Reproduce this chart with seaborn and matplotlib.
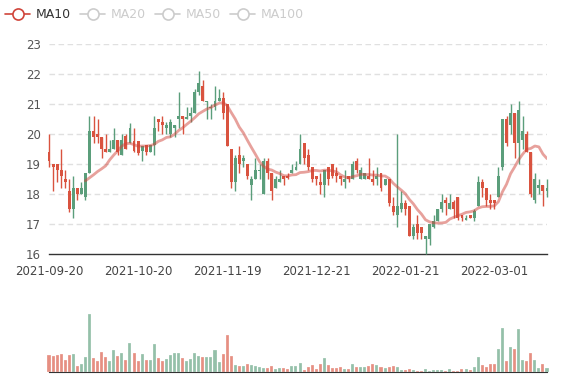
import numpy as np
import pandas as pd
import matplotlib
matplotlib.use('Agg')
import matplotlib.pyplot as plt
import seaborn as sns
from matplotlib.lines import Line2D

# daily candles
opens = [19.4, 19.0, 19.0, 18.8, 18.5, 18.1, 17.5, 18.2, 18.0, 17.9,
         18.7, 20.1, 20.0, 19.9, 19.5, 19.4, 19.5, 19.8, 19.3, 19.95,
         19.7, 19.75, 19.75, 19.45, 19.65, 19.4, 19.65, 20.5, 20.4, 20.2,
         20.0, 20.2, 20.5, 20.6, 20.5, 20.6, 20.7, 21.4, 21.6, 21.05,
         20.85, 20.9, 21.1, 21.2, 21.0, 19.5, 18.4, 19.3, 19.1, 19.0,
         18.3, 18.5, 18.78, 18.0, 19.1, 18.7, 18.2, 18.4, 18.6, 18.6,
         18.7, 18.8, 19.0, 19.7, 19.3, 18.9, 18.6, 18.4, 18.3, 18.9,
         19.0, 18.7, 18.6, 18.4, 18.6, 18.5, 19.1, 18.5, 18.5, 18.6,
         18.5, 18.5, 18.7, 18.3, 18.5, 17.6, 17.3, 17.5, 17.7, 17.6,
         16.6, 17.0, 16.9, 16.5, 16.5, 16.9, 17.1, 17.5, 17.8, 17.5,
         17.75, 17.9, 17.3, 17.15, 17.3, 17.2, 17.6, 18.4, 18.2, 17.8,
         17.8, 17.9, 18.9, 20.5, 20.3, 20.7, 19.7, 19.8, 20.0, 19.4,
         17.8, 18.2, 18.3, 18.1]
highs = [20.0, 19.0, 19.0, 19.5, 18.8, 18.5, 18.6, 18.2, 18.4, 18.7,
         20.6, 20.6, 20.5, 19.9, 20.0, 19.8, 20.2, 19.8, 20.0, 20.0,
         20.35, 20.2, 19.75, 19.6, 19.65, 19.65, 20.6, 20.5, 20.6, 20.4,
         20.5, 20.3, 21.4, 20.6, 20.9, 20.9, 21.5, 22.1, 21.8, 21.1,
         21.0, 21.6, 21.5, 21.4, 21.0, 19.5, 19.3, 19.6, 19.3, 19.0,
         18.6, 19.2, 19.0, 19.2, 19.2, 18.7, 18.6, 18.8, 18.6, 18.7,
         19.0, 19.1, 20.0, 19.7, 19.5, 18.9, 18.6, 18.7, 18.8, 18.9,
         19.0, 18.9, 18.6, 18.8, 18.6, 19.1, 19.2, 18.9, 18.7, 19.2,
         18.8, 18.9, 18.7, 18.5, 18.5, 17.9, 20.0, 18.1, 17.8, 17.6,
         17.0, 17.3, 16.9, 16.6, 17.0, 17.3, 17.5, 18.0, 17.9, 18.0,
         17.8, 17.9, 17.3, 17.3, 17.3, 17.5, 18.6, 18.5, 18.2, 18.0,
         17.8, 18.9, 20.5, 20.6, 21.0, 20.7, 21.1, 20.6, 20.1, 19.4,
         18.7, 18.5, 18.3, 18.5]
lows = [18.9, 18.1, 18.4, 18.2, 18.2, 17.4, 17.2, 17.8, 18.0, 17.8,
        18.7, 19.7, 19.7, 19.2, 19.4, 19.4, 19.5, 19.3, 19.3, 19.5,
        19.7, 19.4, 19.3, 19.1, 19.3, 19.4, 19.3, 20.1, 20.0, 20.0,
        19.9, 19.9, 20.2, 20.0, 20.5, 20.4, 20.7, 21.3, 21.1, 20.5,
        20.5, 20.8, 21.1, 20.5, 19.6, 18.2, 18.1, 18.7, 18.9, 18.5,
        17.8, 18.5, 18.5, 18.0, 18.5, 17.8, 18.2, 18.4, 18.3, 18.5,
        18.7, 18.8, 19.0, 19.0, 18.8, 18.4, 18.3, 18.0, 17.9, 18.3,
        18.55, 18.4, 18.3, 18.2, 18.4, 18.5, 18.7, 18.5, 18.5, 18.5,
        18.3, 18.3, 18.1, 18.3, 17.6, 17.3, 16.9, 17.4, 17.3, 16.6,
        16.5, 16.5, 16.5, 16.0, 16.3, 16.85, 17.1, 17.4, 17.3, 17.5,
        17.2, 17.15, 17.1, 17.15, 17.2, 17.1, 17.6, 17.9, 17.6, 17.5,
        17.5, 17.9, 18.8, 19.6, 20.0, 19.2, 19.0, 19.5, 19.4, 17.9,
        17.7, 18.0, 17.6, 17.9]
closes = [19.1, 18.9, 18.8, 18.6, 18.4, 17.5, 18.2, 18.0, 18.2, 18.7,
          20.1, 19.9, 19.9, 19.5, 19.4, 19.5, 19.8, 19.4, 19.8, 19.5,
          20.2, 19.45, 19.35, 19.6, 19.4, 19.65, 20.2, 20.4, 20.3, 20.3,
          20.4, 20.3, 20.6, 20.5, 20.55, 20.7, 21.4, 21.7, 21.1, 21.1,
          20.9, 21.1, 21.2, 20.7, 19.6, 18.4, 19.2, 19.0, 19.2, 18.6,
          18.5, 18.8, 18.8, 19.1, 18.7, 18.1, 18.5, 18.5, 18.5, 18.55,
          18.8, 18.9, 19.5, 19.2, 18.9, 18.5, 18.5, 18.3, 18.8, 18.5,
          18.6, 18.6, 18.5, 18.5, 18.5, 19.0, 18.8, 18.8, 18.7, 18.5,
          18.4, 18.6, 18.2, 18.5, 17.7, 17.4, 17.6, 17.7, 17.5, 16.6,
          16.9, 16.7, 16.7, 16.6, 17.0, 17.1, 17.5, 17.75, 17.7, 17.7,
          17.5, 17.2, 17.2, 17.2, 17.2, 17.45, 18.4, 18.2, 17.8, 17.7,
          17.7, 18.6, 20.5, 19.7, 20.7, 19.7, 20.8, 20.1, 19.4, 18.0,
          18.5, 18.3, 18.1, 18.2]
volumes = [52, 47, 52, 55, 37, 52, 55, 19, 24, 45,
           175, 41, 33, 61, 46, 32, 65, 49, 57, 36,
           87, 58, 34, 54, 37, 37, 84, 42, 33, 40,
           51, 57, 58, 42, 34, 39, 57, 49, 45, 46,
           46, 67, 31, 54, 111, 48, 22, 18, 17, 23,
           21, 18, 15, 12, 13, 17, 9, 11, 11, 9,
           19, 17, 28, 6, 16, 21, 10, 23, 43, 22,
           12, 12, 15, 10, 10, 24, 14, 16, 14, 19,
           23, 21, 16, 11, 16, 18, 14, 6, 5, 9,
           7, 4, 4, 9, 4, 5, 6, 6, 4, 9,
           4, 4, 10, 10, 7, 15, 45, 21, 15, 24,
           24, 70, 134, 33, 75, 69, 130, 37, 33, 58,
           35, 13, 25, 12]
date_labels = ['2021-09-20', '2021-10-20', '2021-11-19', '2021-12-21',
               '2022-01-21', '2022-03-01']
label_step = 22
ma_names = ['MA10', 'MA20', 'MA50', 'MA100']

df = pd.DataFrame({'open': opens, 'high': highs, 'low': lows,
                   'close': closes, 'volume': volumes})
df['idx'] = np.arange(len(df))
df['ma10'] = df['close'].rolling(10).mean()
df['up'] = df['close'] >= df['open']

sns.set_style('white')
plt.rcParams['font.family'] = ['DejaVu Sans']

red = '#d9533f'
green = '#5b9e7b'
ma_color = '#d0443a'
colors = np.where(df['up'], green, red)

W, H = 577, 380
fig = plt.figure(figsize=(W / 100, H / 100), dpi=100)
ax = fig.add_axes([49 / W, (H - 254) / H, 498 / W, 210 / H])
axv = fig.add_axes([49 / W, (H - 372) / H, 498 / W, 72 / H])

# price panel
for y in range(17, 24):
    ax.axhline(y, color='#e0e0e0', lw=1, ls=(0, (4, 2.5)), zorder=0)
ax.vlines(df['idx'], df['low'], df['high'], colors=colors, lw=1, zorder=3, clip_on=False)
body = (df['close'] - df['open']).abs().clip(lower=0.03)
ax.bar(df['idx'], body, bottom=df[['open', 'close']].min(axis=1), width=0.72,
       color=colors, linewidth=0, zorder=4, clip_on=False)
sns.lineplot(data=df, x='idx', y='ma10', ax=ax, color=ma_color, alpha=0.5, lw=2.0, zorder=5)

ax.set_xlim(0, len(df) - 1)
ax.set_ylim(16, 23)
ax.set_yticks(range(16, 24))
ax.set_xticks(range(0, len(df), label_step)[:len(date_labels)])
ax.set_xticklabels(date_labels)
ax.set_xlabel('')
ax.set_ylabel('')
for s in ['top', 'right', 'left']:
    ax.spines[s].set_visible(False)
ax.spines['bottom'].set_color('#333333')
ax.spines['bottom'].set_linewidth(1)
ax.tick_params(axis='x', length=4, width=1, color='#333333', labelsize=8.5,
               labelcolor='#444444', pad=4)
ax.tick_params(axis='y', length=0, labelsize=8.5, labelcolor='#555555', pad=6)

# volume panel
axv.bar(df['idx'], df['volume'], width=0.75, color=colors, alpha=0.65,
        edgecolor='white', linewidth=0.3, clip_on=False)
axv.set_xlim(0, len(df) - 1)
axv.set_ylim(0, 175 * 72 / 58)
for s in ['top', 'right', 'left']:
    axv.spines[s].set_visible(False)
axv.spines['bottom'].set_color('#333333')
axv.set_xticks([])
axv.set_yticks([])

# legend (only MA10 active)
leg_y = 1 - 14 / H
for k, name in enumerate(ma_names):
    x0 = 5 + 75 * k
    c = ma_color if k == 0 else '#cccccc'
    tc = '#333333' if k == 0 else '#cccccc'
    fig.add_artist(Line2D([x0 / W, (x0 + 25) / W], [leg_y, leg_y],
                          transform=fig.transFigure, color=c, lw=1.2))
    fig.add_artist(Line2D([(x0 + 12.5) / W], [leg_y], transform=fig.transFigure,
                          marker='o', ms=8, mfc='white', mec=c, mew=1.2, lw=0))
    fig.text((x0 + 31) / W, leg_y, name, color=tc, fontsize=9, va='center', ha='left')

fig.savefig('out.png', dpi=100)
